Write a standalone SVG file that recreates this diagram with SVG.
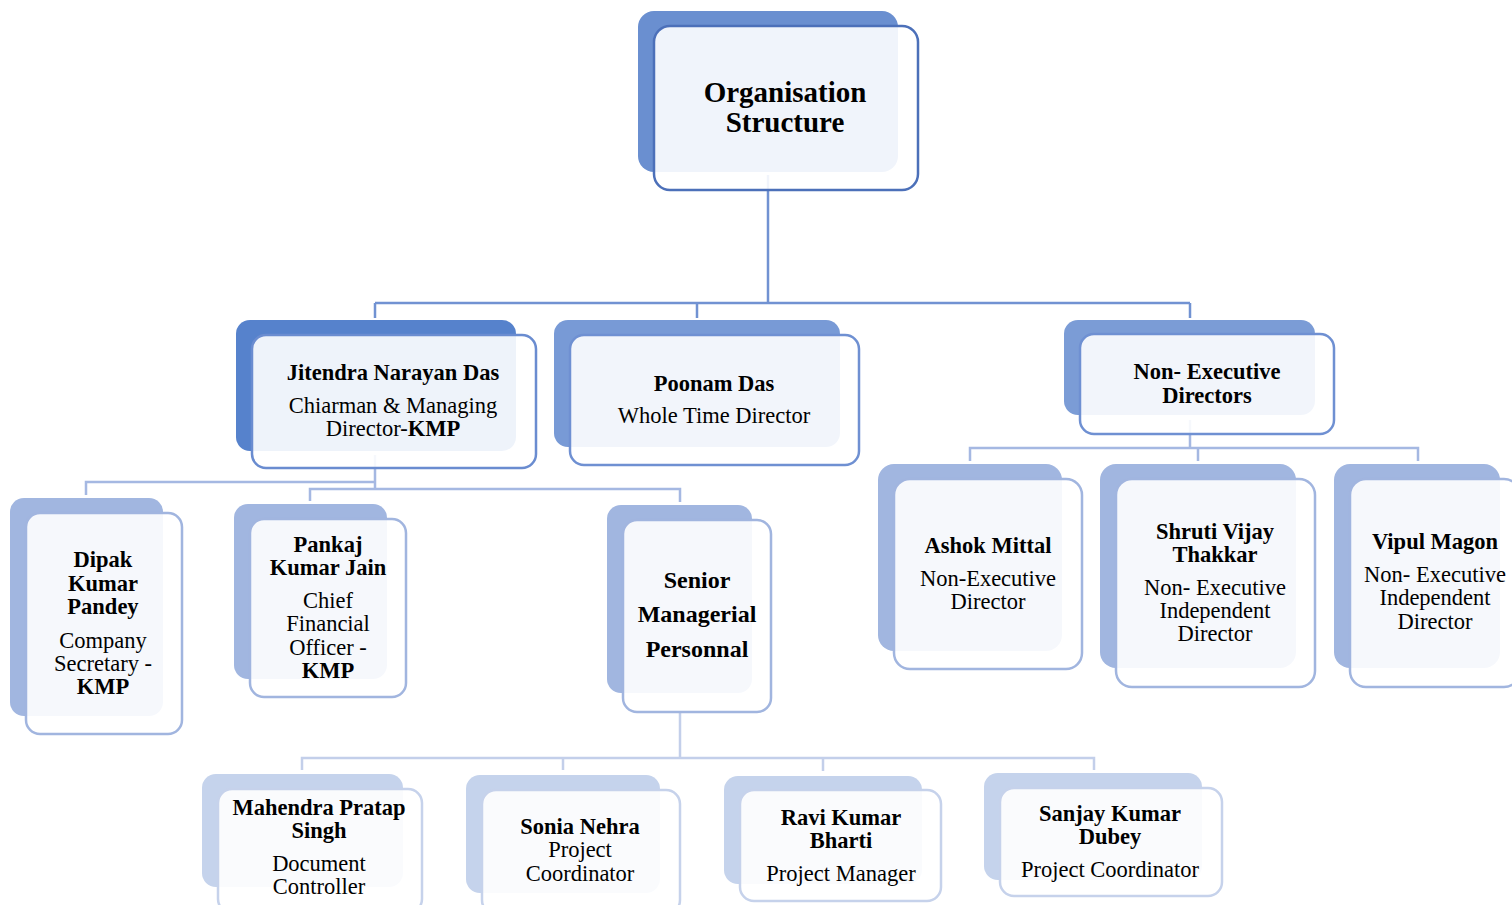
<svg xmlns="http://www.w3.org/2000/svg" width="1512" height="905" viewBox="0 0 1512 905">
<style>
text{font-family:"Liberation Serif","Times New Roman",serif;font-size:22.5px;fill:#000;text-anchor:middle}
.b{font-weight:bold}
.t{font-size:29px;font-weight:bold}
.s{font-size:24px;font-weight:bold}
.front{fill:#fff;fill-opacity:0.9;stroke-width:2.5}
.c{fill:none;stroke-width:2.5}
.c1{stroke:#7192D2}
.c2{stroke:#A5B8E2}
.c3{stroke:#C3CFEA}
</style>
<rect width="1512" height="905" fill="#fff"/>
<g id="connectors">
<path class="c c1" d="M768 175V303M375 303H1190M375 303V318M697 303V318M1190 303V318"/>
<path class="c c2" d="M375 455V489M375 482H86V495M310 501V489H680V502"/>
<path class="c c2" d="M1190 420V448M970 461V448H1418V461M1198 448V461"/>
<path class="c c3" d="M680 712V758M302 770V758H1094V770M563 758V770M823 758V771"/>
</g>
<g id="n-org">
<rect x="638" y="11" width="260" height="161" rx="16" fill="#6A8FD0"/>
<rect class="front" x="654" y="26" width="264" height="164" rx="16" stroke="#4C70B9"/>
<text class="t" x="785" y="102">Organisation</text>
<text class="t" x="785" y="132">Structure</text>
</g>
<g id="n-jitendra">
<rect x="236" y="320" width="280" height="131" rx="14" fill="#5682CC"/>
<rect class="front" x="252" y="335" width="284" height="133" rx="14" stroke="#6A8CD0"/>
<text class="b" x="393" y="380">Jitendra Narayan Das</text>
<text x="393" y="413">Chiarman &amp; Managing</text>
<text x="393" y="436">Director-<tspan class="b">KMP</tspan></text>
</g>
<g id="n-poonam">
<rect x="554" y="320" width="286" height="127" rx="14" fill="#789AD6"/>
<rect class="front" x="570" y="335" width="289" height="130" rx="14" stroke="#6F90D2"/>
<text class="b" x="714" y="391">Poonam Das</text>
<text x="714" y="423">Whole Time Director</text>
</g>
<g id="n-nonexec">
<rect x="1064" y="320" width="251" height="95" rx="14" fill="#7B9CD6"/>
<rect class="front" x="1080" y="334" width="254" height="100" rx="14" stroke="#6F90D2"/>
<text class="b" x="1207" y="379">Non- Executive</text>
<text class="b" x="1207" y="403">Directors</text>
</g>
<g id="n-dipak">
<rect x="10" y="498" width="153" height="218" rx="14" fill="#A1B6E0"/>
<rect class="front" x="26" y="513" width="156" height="221" rx="14" stroke="#A1B5DF"/>
<text class="b" x="103" y="567">Dipak</text>
<text class="b" x="103" y="591">Kumar</text>
<text class="b" x="103" y="614">Pandey</text>
<text x="103" y="648">Company</text>
<text x="103" y="671">Secretary -</text>
<text class="b" x="103" y="694">KMP</text>
</g>
<g id="n-pankaj">
<rect x="234" y="504" width="153" height="175" rx="14" fill="#A1B6E0"/>
<rect class="front" x="250" y="519" width="156" height="178" rx="14" stroke="#A1B5DF"/>
<text class="b" x="328" y="552">Pankaj</text>
<text class="b" x="328" y="575">Kumar Jain</text>
<text x="328" y="608">Chief</text>
<text x="328" y="631">Financial</text>
<text x="328" y="655">Officer -</text>
<text class="b" x="328" y="678">KMP</text>
</g>
<g id="n-senior">
<rect x="607" y="505" width="145" height="188" rx="14" fill="#A1B6E0"/>
<rect class="front" x="623" y="520" width="148" height="192" rx="14" stroke="#A1B5DF"/>
<text class="s" x="697" y="588">Senior</text>
<text class="s" x="697" y="622">Managerial</text>
<text class="s" x="697" y="657">Personnal</text>
</g>
<g id="n-ashok">
<rect x="878" y="464" width="184" height="187" rx="16" fill="#A1B6E0"/>
<rect class="front" x="894" y="479" width="188" height="190" rx="16" stroke="#A1B5DF"/>
<text class="b" x="988" y="553">Ashok Mittal</text>
<text x="988" y="586">Non-Executive</text>
<text x="988" y="609">Director</text>
</g>
<g id="n-shruti">
<rect x="1100" y="464" width="196" height="204" rx="16" fill="#A1B6E0"/>
<rect class="front" x="1116" y="479" width="199" height="208" rx="16" stroke="#A1B5DF"/>
<text class="b" x="1215" y="539">Shruti Vijay</text>
<text class="b" x="1215" y="562">Thakkar</text>
<text x="1215" y="595">Non- Executive</text>
<text x="1215" y="618">Independent</text>
<text x="1215" y="641">Director</text>
</g>
<g id="n-vipul">
<rect x="1334" y="464" width="166" height="204" rx="16" fill="#A1B6E0"/>
<rect class="front" x="1350" y="479" width="170" height="208" rx="16" stroke="#A1B5DF"/>
<text class="b" x="1435" y="549">Vipul Magon</text>
<text x="1435" y="582">Non- Executive</text>
<text x="1435" y="605">Independent</text>
<text x="1435" y="629">Director</text>
</g>
<g id="n-mahendra">
<rect x="202" y="774" width="201" height="113" rx="14" fill="#C5D3EC"/>
<rect class="front" x="218" y="789" width="204" height="124" rx="14" stroke="#C6D2EB"/>
<text class="b" x="319" y="815">Mahendra Pratap</text>
<text class="b" x="319" y="838">Singh</text>
<text x="319" y="871">Document</text>
<text x="319" y="894">Controller</text>
</g>
<g id="n-sonia">
<rect x="466" y="775" width="194" height="118" rx="14" fill="#C5D3EC"/>
<rect class="front" x="482" y="790" width="198" height="124" rx="14" stroke="#C6D2EB"/>
<text class="b" x="580" y="834">Sonia Nehra</text>
<text x="580" y="857">Project</text>
<text x="580" y="881">Coordinator</text>
</g>
<g id="n-ravi">
<rect x="724" y="776" width="198" height="108" rx="14" fill="#C5D3EC"/>
<rect class="front" x="740" y="790" width="201" height="111" rx="14" stroke="#C6D2EB"/>
<text class="b" x="841" y="825">Ravi Kumar</text>
<text class="b" x="841" y="848">Bharti</text>
<text x="841" y="881">Project Manager</text>
</g>
<g id="n-sanjay">
<rect x="984" y="773" width="218" height="107" rx="14" fill="#C5D3EC"/>
<rect class="front" x="1000" y="788" width="222" height="108" rx="14" stroke="#C6D2EB"/>
<text class="b" x="1110" y="821">Sanjay Kumar</text>
<text class="b" x="1110" y="844">Dubey</text>
<text x="1110" y="877">Project Coordinator</text>
</g>
</svg>
